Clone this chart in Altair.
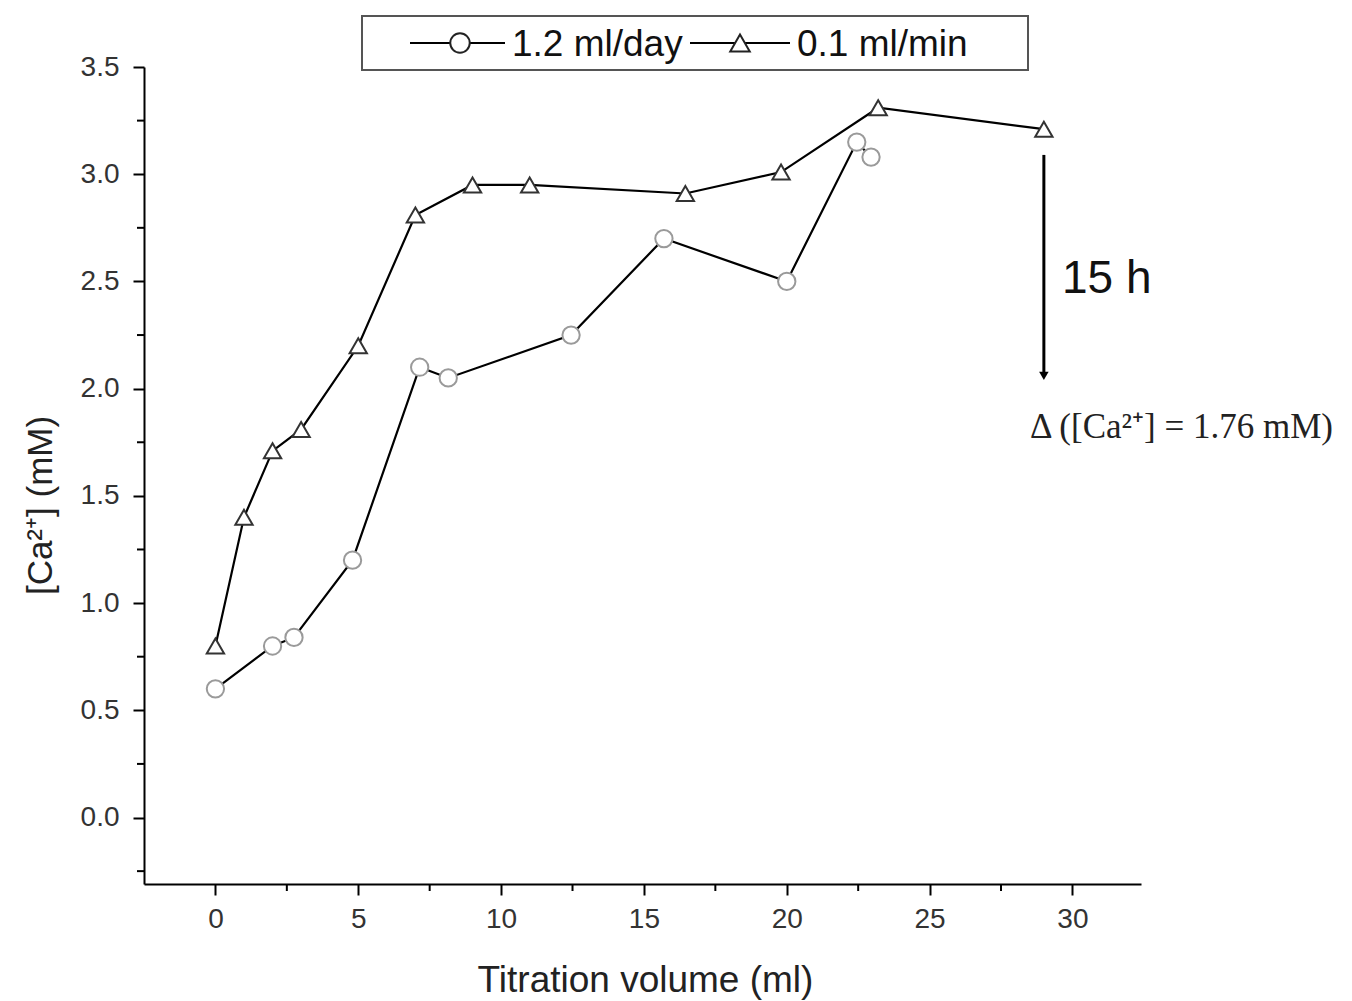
import altair as alt
import pandas as pd

# ---- data ----
slow_x = [0, 2, 2.75, 4.8, 7.15, 8.15, 12.45, 15.7, 20, 22.45, 22.95]
slow_y = [0.6, 0.8, 0.84, 1.2, 2.1, 2.05, 2.25, 2.7, 2.5, 3.15, 3.08]
fast_x = [0, 1, 2, 3, 5, 7, 9, 11, 16.45, 19.8, 23.2, 29]
fast_y = [0.8, 1.4, 1.71, 1.81, 2.2, 2.81, 2.95, 2.95, 2.91, 3.01, 3.31, 3.21]
series_names = ["1.2 ml/day", "0.1 ml/min"]

x_major = [0, 5, 10, 15, 20, 25, 30]
x_minor = [2.5, 7.5, 12.5, 17.5, 22.5, 27.5]
y_major = [0.0, 0.5, 1.0, 1.5, 2.0, 2.5, 3.0, 3.5]
y_minor = [-0.25, 0.25, 0.75, 1.25, 1.75, 2.25, 2.75, 3.25]

arrow_x = [29]
arrow_y_start = [3.09]
arrow_y_end = [2.06]
arrow_label = "15 h"
delta_label = "Δ ([Ca²⁺] = 1.76 mM)"

W, H = 997, 817
x_dom = [-2.5, 32.4]
y_dom = [-0.31, 3.5]

df = pd.concat([
    pd.DataFrame({"x": slow_x, "y": slow_y, "s": series_names[0], "o": range(len(slow_x))}),
    pd.DataFrame({"x": fast_x, "y": fast_y, "s": series_names[1], "o": range(len(fast_x))}),
])

xs = alt.Scale(domain=x_dom, nice=False, zero=False)
ys = alt.Scale(domain=y_dom, nice=False, zero=False)

X = alt.X("x:Q", scale=xs, axis=alt.Axis(
    values=x_major, format="d", title="Titration volume (ml)",
    titleX=501, titleY=96, titleAlign="center", titleBaseline="middle",
    titleFontSize=37, labelPadding=10))
Y = alt.Y("y:Q", scale=ys, axis=alt.Axis(
    values=y_major, format=".1f", title="[Ca²⁺] (mM)",
    titleX=-104, titleY=438, titleAngle=270, titleAlign="center", titleBaseline="middle",
    titleFontSize=35, labelPadding=14))

base = alt.Chart(df)
lines = base.mark_line(color="black", strokeWidth=2.2).encode(
    x=X, y=Y, detail="s:N", order="o:Q")
shape_scale = alt.Scale(domain=series_names, range=["circle", "triangle-up"])
stroke_scale = alt.Scale(domain=series_names, range=["#9a9a9a", "#333333"])
points = base.mark_point(filled=False, fill="white", fillOpacity=1, size=300, strokeWidth=2).encode(
    x="x:Q", y="y:Q",
    shape=alt.Shape("s:N", scale=shape_scale, legend=None),
    stroke=alt.Stroke("s:N", scale=stroke_scale, legend=None))

# minor ticks
xminor = alt.Chart(pd.DataFrame({"x": x_minor})).mark_rule(color="black", strokeWidth=2).encode(
    x="x:Q", y=alt.value(H), y2=alt.value(H + 7))
yminor = alt.Chart(pd.DataFrame({"y": y_minor})).mark_rule(color="black", strokeWidth=2).encode(
    y="y:Q", x=alt.value(-7), x2=alt.value(0))

# arrow annotation
adf = pd.DataFrame({"x": arrow_x, "y": arrow_y_start, "y2": arrow_y_end})
arrow = alt.Chart(adf).mark_rule(color="black", strokeWidth=3).encode(
    x="x:Q", y="y:Q", y2="y2:Q")
head = alt.Chart(adf).mark_point(shape="triangle-down", filled=True, color="black", size=90, opacity=1).encode(
    x="x:Q", y="y2:Q")
t15 = alt.Chart(adf).mark_text(text=arrow_label, font="Liberation Sans", fontSize=46, align="left",
                               baseline="alphabetic", color="#111").encode(
    x=alt.value(918), y=alt.value(226))
tdelta = alt.Chart(adf).mark_text(text=delta_label, font="Liberation Serif", fontSize=35, align="left",
                                  baseline="alphabetic", color="#222").encode(
    x=alt.value(886), y=alt.value(371))

# custom legend
leg_box = alt.Chart(adf).mark_rect(fill="white", stroke="#555", strokeWidth=2).encode(
    x=alt.value(218), x2=alt.value(884), y=alt.value(-51), y2=alt.value(3))
leg_df = pd.DataFrame({"s": series_names, "x1": [266, 546], "x2": [361, 646], "xm": [316, 596],
                       "xt": [368, 653]})
leg_lines = alt.Chart(leg_df).mark_rule(color="black", strokeWidth=2.2).encode(
    x=alt.X("x1:Q", scale=None), x2="x2:Q", y=alt.value(-24))
leg_pts = alt.Chart(leg_df).mark_point(filled=False, fill="white", fillOpacity=1, size=380, strokeWidth=2).encode(
    x=alt.X("xm:Q", scale=None), y=alt.value(-24),
    shape=alt.Shape("s:N", scale=shape_scale, legend=None),
    stroke=alt.value("#222"))
leg_txt = alt.Chart(leg_df).mark_text(font="Liberation Sans", fontSize=37, align="left",
                                      baseline="middle", color="#111").encode(
    x=alt.X("xt:Q", scale=None), y=alt.value(-22), text="s:N")

chart = alt.layer(
    xminor, yminor, lines, points, arrow, head, t15, tdelta,
    leg_box, leg_lines, leg_pts, leg_txt
).properties(
    width=W, height=H,
    autosize=alt.AutoSizeParams(type="none"),
    padding={"left": 144, "top": 67, "right": 1352 - 144 - W, "bottom": 1001 - 67 - H},
    background="white",
).configure_view(stroke=None).configure_axis(
    grid=False, domainColor="black", domainWidth=2, tickColor="black", tickWidth=2, tickSize=11,
    labelFont="Liberation Sans", labelFontSize=28, labelColor="#333",
    titleFont="Liberation Sans", titleColor="#222", titleFontWeight="normal",
)

chart.save("out.html", embed_options={"renderer": "svg", "actions": False})
